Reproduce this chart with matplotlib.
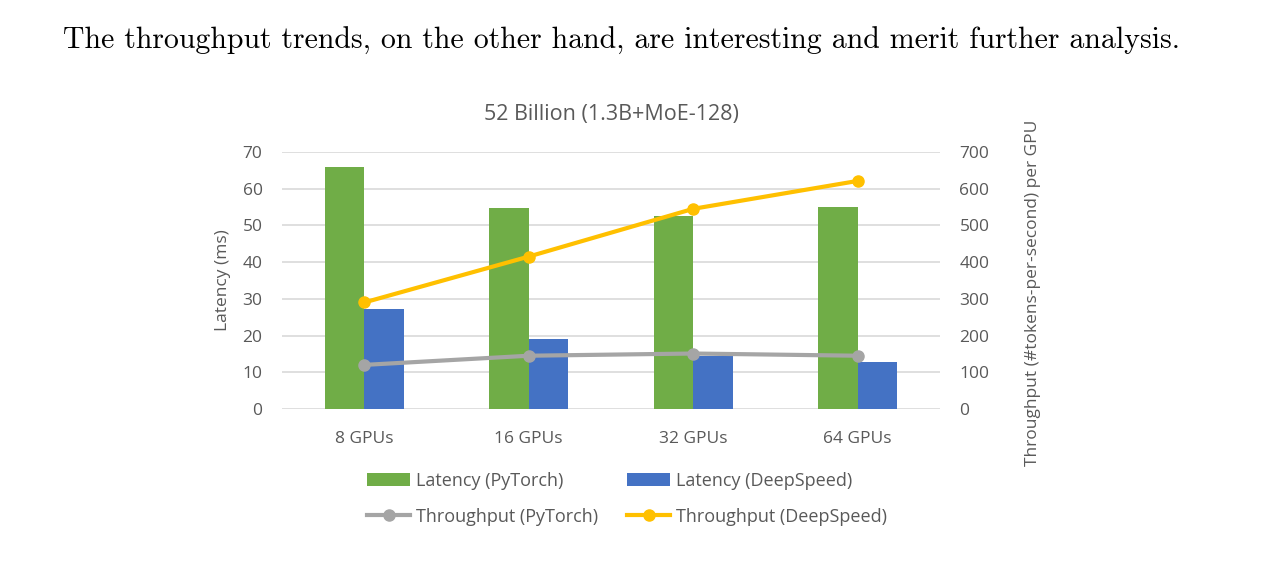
import matplotlib.pyplot as plt
import numpy as np

categories = ["8 GPUs", "16 GPUs", "32 GPUs", "64 GPUs"]
latency_pytorch = [66.0, 54.8, 52.6, 55.1]
latency_deepspeed = [27.3, 19.1, 14.3, 12.8]
throughput_pytorch = [120, 145, 151, 145]
throughput_deepspeed = [290, 415, 545, 621]

green = "#70AD47"
blue = "#4472C4"
gray = "#A5A5A5"
gold = "#FFC000"
txt = "#595959"
plt.rcParams['font.family'] = ['Open Sans', 'DejaVu Sans']

fig = plt.figure(figsize=(12.69, 5.7), dpi=100)
fig.text(0.0496, 0.928, "The throughput trends, on the other hand, are interesting and merit further analysis.",
         fontfamily="cmr10", fontsize=21.5, ha="left", va="center", color="black")

ax = fig.add_axes([0.2222, 0.2825, 0.5185, 0.451])
x = np.arange(len(categories))
w = 0.24
b1 = ax.bar(x - w / 2, latency_pytorch, w, color=green, label="Latency (PyTorch)", zorder=2)
b2 = ax.bar(x + w / 2, latency_deepspeed, w, color=blue, label="Latency (DeepSpeed)", zorder=2)
ax.set_ylim(0, 70)
ax.set_yticks(range(0, 71, 10))
ax.set_xlim(-0.5, 3.5)
ax.set_xticks(x)
ax.set_xticklabels(categories)
ax.grid(axis="y", color="#D9D9D9", linewidth=1.2, zorder=0)
ax.set_axisbelow(True)
for s in ax.spines.values():
    s.set_visible(False)
ax.tick_params(length=0, labelsize=12.5, colors=txt, pad=14)
ax.tick_params(axis="x", pad=16)
ax.set_ylabel("Latency (ms)", fontsize=12.5, color=txt, labelpad=8)
ax.set_title("52 Billion (1.3B+MoE-128)", fontsize=15.5, color=txt, pad=23)

ax2 = ax.twinx()
l1, = ax2.plot(x, throughput_pytorch, color=gray, lw=3, marker="o", ms=8, label="Throughput (PyTorch)", zorder=3)
l2, = ax2.plot(x, throughput_deepspeed, color=gold, lw=3, marker="o", ms=8, label="Throughput (DeepSpeed)", zorder=3)
ax2.set_ylim(0, 700)
ax2.set_yticks(range(0, 701, 100))
for s in ax2.spines.values():
    s.set_visible(False)
ax2.tick_params(length=0, labelsize=12.5, colors=txt, pad=14)
ax2.set_ylabel("Throughput (#tokens-per-second) per GPU", fontsize=12.5, color=txt)
ax2.yaxis.set_label_coords(1.13, 0.453)

fig.legend([b1, l1, b2, l2],
           ["Latency (PyTorch)", "Throughput (PyTorch)", "Latency (DeepSpeed)", "Throughput (DeepSpeed)"],
           ncol=2, loc="center", bbox_to_anchor=(0.494, 0.125), frameon=False,
           fontsize=13, labelcolor=txt, handlelength=2.4, handletextpad=0.3,
           columnspacing=1.6, labelspacing=1.0)

fig.savefig("out.png", dpi=100)
